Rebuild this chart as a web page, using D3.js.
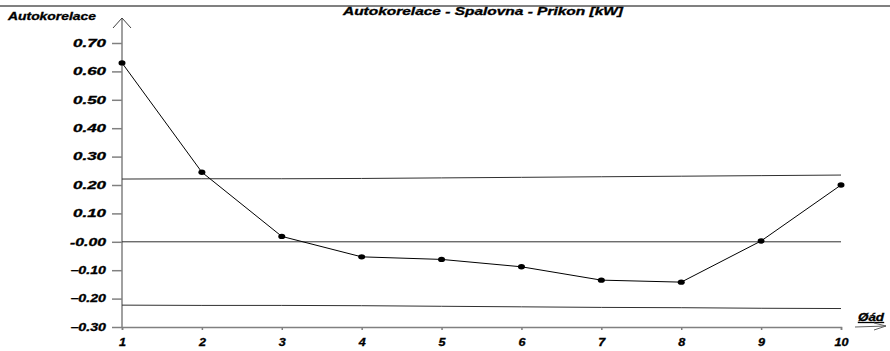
<!DOCTYPE html>
<html>
<head>
<meta charset="utf-8">
<script src="https://cdn.jsdelivr.net/npm/d3@7"></script>
<style>
  body { margin: 0; background: #fff; }
  text { font-family: "Liberation Sans", Arial, sans-serif; font-weight: bold; font-style: italic; fill: #000; }
</style>
</head>
<body>
<svg width="890" height="351"></svg>
<script>
// lags and autocorrelation values
var lags = [1, 2, 3, 4, 5, 6, 7, 8, 9, 10];
var acf = [0.630, 0.245, 0.019, -0.053, -0.062, -0.088, -0.135, -0.142, 0.003, 0.200];
// confidence band (upper, lower)
var upperBand = [0.221, 0.222, 0.222, 0.223, 0.225, 0.227, 0.229, 0.231, 0.233, 0.235];
var lowerBand = [-0.223, -0.224, -0.224, -0.225, -0.227, -0.229, -0.231, -0.232, -0.234, -0.235];
var yTicks = [0.70, 0.60, 0.50, 0.40, 0.30, 0.20, 0.10, 0.00, -0.10, -0.20, -0.30];

var svg = d3.select('svg');

var x = d3.scaleLinear().domain([1, 10]).range([122, 841]);
var y = d3.scaleLinear().domain([-0.30, 0.70]).range([327, 43]);

// top separator line
svg.append('line')
  .attr('x1', 0).attr('x2', 890).attr('y1', 6).attr('y2', 6)
  .attr('stroke', '#808080').attr('stroke-width', 2);

// title
svg.append('text')
  .attr('x', 343).attr('y', 15)
  .attr('font-size', 10)
  .attr('stroke', '#000').attr('stroke-width', 0.3)
  .attr('textLength', 280).attr('lengthAdjust', 'spacingAndGlyphs')
  .text('Autokorelace - Spalovna - Prikon [kW]');

// y label
svg.append('text')
  .attr('x', 8).attr('y', 20)
  .attr('font-size', 10)
  .attr('stroke', '#000').attr('stroke-width', 0.3)
  .attr('textLength', 88).attr('lengthAdjust', 'spacingAndGlyphs')
  .text('Autokorelace');

// y axis
var yAxis = d3.axisLeft(y)
  .tickValues(yTicks)
  .tickSize(10)
  .tickPadding(6)
  .tickFormat(function (d) { return d === 0 ? '-0.00' : d3.format('.2f')(d) });

var gy = svg.append('g').attr('transform', 'translate(' + x(1) + ',0)').call(yAxis);
gy.select('.domain').remove();
gy.selectAll('line').attr('stroke', '#808080').attr('stroke-width', 1.5);
gy.selectAll('text')
  .attr('font-size', 10)
  .attr('font-family', '"Liberation Sans", Arial, sans-serif')
  .attr('font-weight', 'bold').attr('font-style', 'italic')
  .attr('stroke', '#000').attr('stroke-width', 0.3)
  .attr('textLength', function (d) { return d < 0 || d === 0 ? 36 : 33 })
  .attr('lengthAdjust', 'spacingAndGlyphs');

// vertical axis line with arrow
svg.append('line')
  .attr('x1', x(1)).attr('x2', x(1)).attr('y1', y(-0.30)).attr('y2', 18)
  .attr('stroke', '#808080').attr('stroke-width', 1.5);
svg.append('path')
  .attr('d', 'M' + (x(1) - 9) + ',28L' + x(1) + ',18L' + (x(1) + 9) + ',28')
  .attr('fill', 'none').attr('stroke', '#404040').attr('stroke-width', 1);

// x axis
var xAxis = d3.axisBottom(x)
  .tickValues(lags)
  .tickSize(3)
  .tickPadding(9)
  .tickFormat(d3.format('d'));

var gx = svg.append('g').attr('transform', 'translate(0,' + y(-0.30) + ')').call(xAxis);
gx.select('.domain').attr('stroke', '#808080').attr('stroke-width', 1.5);
gx.selectAll('line').attr('stroke', '#808080').attr('stroke-width', 1.5);
gx.selectAll('text')
  .attr('font-size', 10)
  .attr('font-family', '"Liberation Sans", Arial, sans-serif')
  .attr('font-weight', 'bold').attr('font-style', 'italic')
  .attr('stroke', '#000').attr('stroke-width', 0.3)
  .attr('textLength', function (d) { return String(d).length * 7 })
  .attr('lengthAdjust', 'spacingAndGlyphs');

// x label with arrow
svg.append('text')
  .attr('x', 858).attr('y', 321)
  .attr('font-size', 10)
  .attr('stroke', '#000').attr('stroke-width', 0.3)
  .attr('text-decoration', 'underline')
  .attr('textLength', 26).attr('lengthAdjust', 'spacingAndGlyphs')
  .text('Øád');
svg.append('path')
  .attr('d', 'M855,327L886,326M874,323L886,326L874,330')
  .attr('fill', 'none').attr('stroke', '#606060').attr('stroke-width', 1);

// zero line
svg.append('line')
  .attr('x1', x(1)).attr('x2', x(10)).attr('y1', y(0)).attr('y2', y(0))
  .attr('stroke', '#303030').attr('stroke-width', 1);

// confidence bands
var bandLine = d3.line()
  .x(function (d, i) { return x(lags[i]) })
  .y(function (d) { return y(d) });

[upperBand, lowerBand].forEach(function (b) {
  svg.append('path')
    .attr('d', bandLine(b))
    .attr('fill', 'none').attr('stroke', '#303030').attr('stroke-width', 1);
});

// acf line
svg.append('path')
  .attr('d', bandLine(acf))
  .attr('fill', 'none').attr('stroke', '#000').attr('stroke-width', 1);

svg.append('g').selectAll('ellipse')
  .data(acf)
  .enter().append('ellipse')
    .attr('cx', function (d, i) { return x(lags[i]) })
    .attr('cy', function (d) { return y(d) })
    .attr('rx', 3.5).attr('ry', 2.7)
    .attr('fill', '#000');
</script>
</body>
</html>
